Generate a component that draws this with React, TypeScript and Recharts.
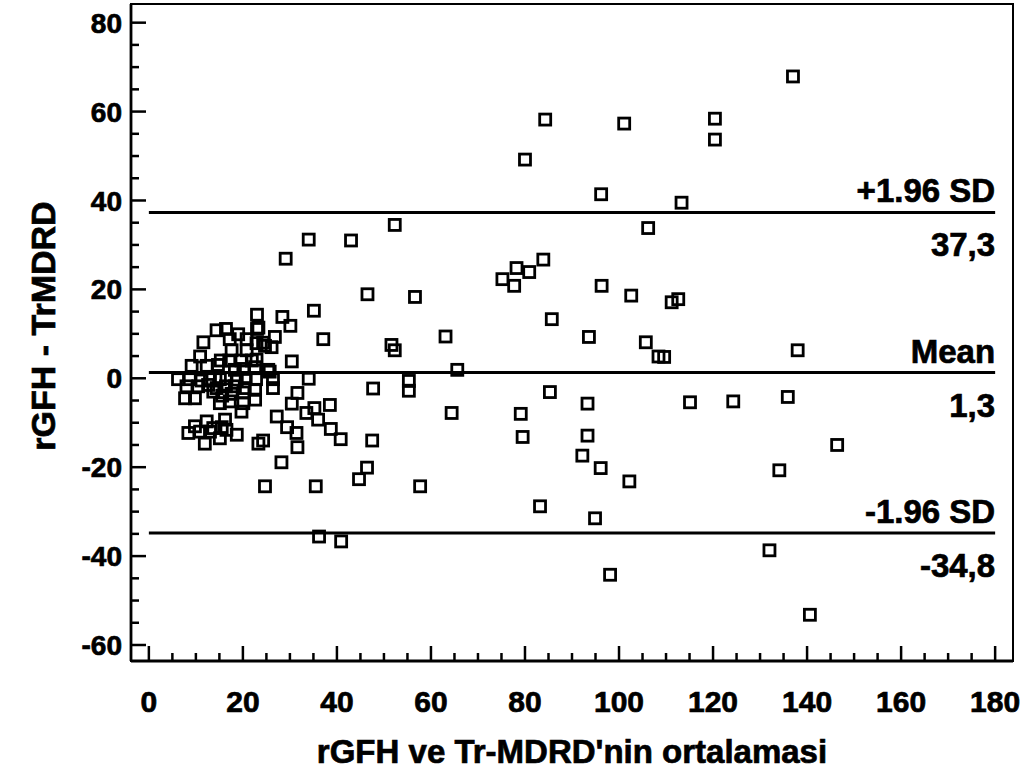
import React from 'react'
import {
  ScatterChart,
  Scatter,
  XAxis,
  YAxis,
  ReferenceLine,
} from 'recharts'

// average of rGFH and Tr-MDRD
const averages = [
  137.0, 84.3, 101.1, 120.4, 120.4, 80.0, 96.2, 113.3, 106.2, 83.9, 78.2, 80.9, 75.2, 77.7,
  96.3, 102.6, 111.2, 112.6, 85.7, 93.6, 105.7, 108.4, 109.6, 85.3, 93.3, 115.1, 79.1, 79.5,
  93.3, 92.2, 96.1, 102.2, 83.2, 94.9, 98.1, 138.0, 124.3, 135.9, 146.4, 134.1, 132.0, 140.6,
  52.3, 34.0, 43.0, 29.1, 46.5, 56.6, 35.1, 28.4, 30.1, 63.1, 37.1, 51.6, 52.3, 26.8, 30.4,
  65.6, 34.0, 55.3, 55.3, 47.7, 26.4, 31.6, 30.4, 38.5, 35.2, 33.5, 64.4, 27.2, 36.0, 29.4,
  31.4, 38.7, 40.8, 47.5, 31.6, 23.3, 24.3, 28.2, 46.4, 44.7, 24.7, 35.5, 57.7, 36.2, 40.9,
  23.0, 14.4, 16.4, 23.0, 19.0, 17.2, 20.8, 11.6, 22.9, 24.7, 26.1, 17.6, 20.8, 10.9, 15.3,
  17.1, 19.7, 21.9, 9.1, 12.3, 14.7, 18.3, 20.1, 22.6, 25.4, 6.2, 8.7, 11.2, 13.0, 15.1,
  16.5, 18.7, 20.6, 22.8, 26.4, 8.0, 10.5, 12.6, 14.4, 16.4, 18.3, 20.4, 22.6, 7.7, 9.8,
  13.7, 15.6, 17.6, 20.1, 22.6, 15.1, 17.2, 20.1, 19.7, 13.7, 16.2, 12.3, 9.8, 8.4, 10.9,
  13.0, 15.5, 16.5, 18.7, 15.1, 11.9, 25.7, 23.3, 24.3, 22.9,
]

// rGFH - TrMDRD
const differences = [
  67.9, 58.2, 57.3, 58.4, 53.7, 49.2, 41.4, 39.5, 33.8, 26.7, 24.8, 23.9, 22.3, 20.8,
  20.8, 18.6, 17.1, 17.8, 13.3, 9.3, 8.1, 4.9, 4.8, -3.1, -5.7, -5.4, -8.0, -13.2,
  -12.9, -17.4, -20.2, -23.2, -28.8, -31.5, -44.2, 6.3, -5.2, -4.2, -15.0, -20.7, -38.7, -53.2,
  34.5, 31.2, 31.0, 26.9, 18.9, 18.3, 15.2, 13.8, 11.8, 9.4, 8.8, 7.5, 6.3, 9.3, 3.8,
  1.9, -0.1, -0.6, -2.8, -2.3, -2.2, -3.3, -5.7, -6.0, -6.7, -7.8, -7.8, -8.6, -9.3, -11.0,
  -12.3, -11.4, -13.7, -14.0, -15.5, -14.7, -14.0, -18.9, -20.1, -22.7, -24.3, -24.3, -24.3, -35.6, -36.7,
  14.3, 10.8, 11.1, 11.1, 9.9, 8.8, 8.8, 8.1, 7.9, 7.3, 7.0, 6.3, 6.3, 4.9, 4.0,
  4.0, 4.0, 4.0, 2.8, 2.8, 3.0, 1.9, 2.1, 2.5, 1.9, -0.2, -0.2, -0.5, -0.2, -0.2,
  0.0, -0.3, 0.0, -0.2, -0.2, -1.8, -1.8, -1.5, -2.2, -1.8, -1.8, -2.2, -2.6, -4.5, -4.5,
  -3.0, -3.9, -3.5, -3.2, -4.8, -5.6, -5.2, -5.6, -7.5, -11.2, -9.3, -9.7, -10.8, -12.3, -12.0,
  -12.0, -11.0, -11.6, -12.7, -13.5, -14.7, 1.5, 11.4, 8.0, 4.2,
]

const upperLimit = 37.3
const meanDiff = 1.3
const lowerLimit = -34.8

const limitLabels = [
  { value: upperLimit, name: '+1.96 SD', text: '37,3' },
  { value: meanDiff, name: 'Mean', text: '1,3' },
  { value: lowerLimit, name: '-1.96 SD', text: '-34,8' },
]

const xTicks = [
  0, 5, 10, 15, 20, 25, 30, 35, 40, 45, 50, 55, 60, 65, 70, 75, 80, 85, 90, 95, 100,
  105, 110, 115, 120, 125, 130, 135, 140, 145, 150, 155, 160, 165, 170, 175, 180,
]
const yTicks = [
  -60, -55, -50, -45, -40, -35, -30, -25, -20, -15, -10, -5, 0, 5, 10, 15, 20, 25, 30,
  35, 40, 45, 50, 55, 60, 65, 70, 75, 80,
]

const X_DOMAIN: [number, number] = [-3.8, 183.8]
const Y_DOMAIN: [number, number] = [-63.6, 84.2]

const W = 1032
const H = 778
const MARGIN = { top: 4, right: 19, left: 0, bottom: 0 }
const Y_AXIS_W = 131
const X_AXIS_H = 117
const FRAME = 2.8

const FONT = '"Liberation Sans", Arial, sans-serif'
// the original text is a heavy bitmap bold, a thin stroke thickens it
const heavy = { fontFamily: FONT, fontWeight: 'bold' as const, fill: '#000', stroke: '#000', strokeWidth: 0.7 }

const points = averages.map((x, i) => ({ x, y: differences[i] }))

const SquareDot = (props: any) => {
  const { cx, cy } = props
  return (
    <rect x={cx - 5.5} y={cy - 5.5} width={11} height={11} fill="none" stroke="#000" strokeWidth={2.8} />
  )
}

const YTick = (props: any) => {
  const { x, y, payload } = props
  const v = payload.value
  const major = v % 20 === 0
  return (
    <g>
      <line x1={x} y1={y} x2={x + (major ? 15 : 8)} y2={y} stroke="#000" strokeWidth={2.5} />
      {major && (
        <text x={x - 9} y={y} dy="0.36em" textAnchor="end" fontSize={28} {...heavy}>
          {v}
        </text>
      )}
    </g>
  )
}

const XTick = (props: any) => {
  const { x, y, payload } = props
  const v = payload.value
  const major = v % 20 === 0
  return (
    <g>
      <line x1={x} y1={y} x2={x} y2={y - (major ? 15 : 8)} stroke="#000" strokeWidth={2.5} />
      {major && (
        <text x={x} y={y + 51} textAnchor="middle" fontSize={30} {...heavy}>
          {v}
        </text>
      )}
    </g>
  )
}

const XTitle = (props: any) => {
  const vb = props.viewBox
  return (
    <text x={vb.x + vb.width / 2} y={763} textAnchor="middle" fontSize={33} {...heavy}>
      rGFH ve Tr-MDRD'nin ortalamasi
    </text>
  )
}

const limitLabel = (name: string, text: string) => (props: any) => {
  const { viewBox } = props
  const right = viewBox.x + viewBox.width
  const y = viewBox.y
  return (
    <g fontSize={33} {...heavy}>
      <text x={right} y={y - 10} textAnchor="end">{name}</text>
      <text x={right} y={y + 44} textAnchor="end">{text}</text>
    </g>
  )
}

// plot box edges, from the chart margins and axis sizes
const plotLeft = MARGIN.left + Y_AXIS_W
const plotTop = MARGIN.top
const plotRight = W - MARGIN.right
const plotBottom = H - MARGIN.bottom - X_AXIS_H

export default function App() {
  return (
    <div style={{ position: 'absolute', left: 0, top: 0, width: W, height: H, background: '#fff' }}>
      <ScatterChart width={W} height={H} margin={MARGIN}>
        <XAxis
          type="number"
          dataKey="x"
          domain={X_DOMAIN}
          ticks={xTicks}
          interval={0}
          allowDataOverflow
          height={X_AXIS_H}
          tickSize={0}
          tickMargin={0}
          axisLine={{ stroke: '#000', strokeWidth: FRAME }}
          tickLine={false}
          tick={<XTick />}
          label={XTitle}
        />
        <YAxis
          type="number"
          dataKey="y"
          domain={Y_DOMAIN}
          ticks={yTicks}
          interval={0}
          allowDataOverflow
          width={Y_AXIS_W}
          tickSize={0}
          tickMargin={0}
          axisLine={{ stroke: '#000', strokeWidth: FRAME }}
          tickLine={false}
          tick={<YTick />}
          label={() => (
            <text
              x={43}
              y={326}
              textAnchor="middle"
              dominantBaseline="central"
              transform="rotate(-90 43 326)"
              fontSize={34}
              {...heavy}
            >
              rGFH - TrMDRD
            </text>
          )}
        />
        {limitLabels.map((l) => (
          <ReferenceLine
            key={l.name}
            segment={[{ x: 0, y: l.value }, { x: 180, y: l.value }]}
            stroke="#000"
            strokeWidth={2.8}
            label={limitLabel(l.name, l.text)}
          />
        ))}
        <Scatter data={points} shape={<SquareDot />} isAnimationActive={false} />
      </ScatterChart>
      {/* box round the plot area */}
      <div
        style={{
          position: 'absolute',
          left: plotLeft - FRAME / 2,
          top: plotTop - FRAME / 2,
          width: plotRight - plotLeft + FRAME,
          height: plotBottom - plotTop + FRAME,
          border: `${FRAME}px solid #000`,
          boxSizing: 'border-box',
          pointerEvents: 'none',
        }}
      />
    </div>
  )
}
